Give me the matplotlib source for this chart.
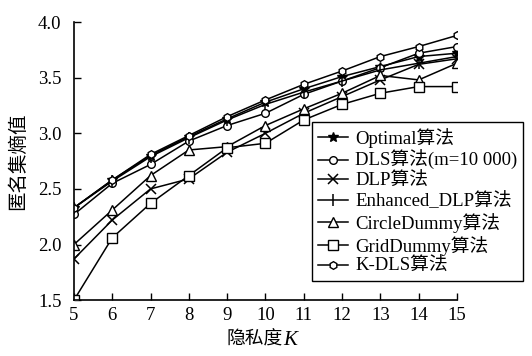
import matplotlib.pyplot as plt

plt.rcParams['font.family'] = ['Liberation Serif', 'Noto Sans CJK SC']

# privacy level K
K = [5, 6, 7, 8, 9, 10, 11, 12, 13, 14, 15]

# anonymity-set entropy
optimal = [2.33, 2.58, 2.80, 2.97, 3.13, 3.28, 3.40, 3.51, 3.60, 3.69, 3.72]
dls = [2.27, 2.55, 2.72, 2.93, 3.07, 3.18, 3.35, 3.47, 3.59, 3.72, 3.78]
dlp = [1.87, 2.22, 2.50, 2.59, 2.83, 3.00, 3.18, 3.33, 3.48, 3.62, 3.67]
enhanced_dlp = [2.33, 2.57, 2.79, 2.96, 3.12, 3.26, 3.37, 3.47, 3.57, 3.63, 3.69]
circle_dummy = [2.00, 2.31, 2.62, 2.85, 2.88, 3.07, 3.22, 3.36, 3.52, 3.48, 3.63]
grid_dummy = [1.50, 2.06, 2.37, 2.62, 2.87, 2.91, 3.12, 3.26, 3.36, 3.42, 3.42]
k_dls = [2.33, 2.58, 2.81, 2.98, 3.15, 3.30, 3.44, 3.56, 3.69, 3.78, 3.88]

labels = ['Optimal算法', 'DLS算法(m=10 000)', 'DLP算法', 'Enhanced_DLP算法',
          'CircleDummy算法', 'GridDummy算法', 'K-DLS算法']

fig = plt.figure(figsize=(5.32, 3.56), dpi=100)
ax = fig.add_axes([0.139, 0.157, 0.72, 0.781])

lw = 1.1
ax.plot(K, optimal, marker='*', ms=7, color='black', lw=lw, label=labels[0])
ax.plot(K, dls, marker='o', ms=5.5, mfc='white', mec='black', color='black', lw=lw, label=labels[1])
ax.plot(K, dlp, marker='x', ms=7, mew=1.1, color='black', lw=lw, label=labels[2])
ax.plot(K, enhanced_dlp, marker='|', ms=8, mew=1.1, color='black', lw=lw, label=labels[3])
ax.plot(K, circle_dummy, marker='^', ms=6.5, mfc='white', mec='black', color='black', lw=lw, label=labels[4])
ax.plot(K, grid_dummy, marker='s', ms=6.5, mfc='white', mec='black', color='black', lw=lw, label=labels[5])
ax.plot(K, k_dls, marker='h', ms=5.5, mfc='white', mec='black', color='black', lw=lw, label=labels[6])

ax.set_xlim(5, 15)
ax.set_ylim(1.5, 4.0)
ax.set_xticks(K)
ax.set_yticks([1.5, 2.0, 2.5, 3.0, 3.5, 4.0])
ax.set_yticklabels(['1.5', '2.0', '2.5', '3.0', '3.5', '4.0'])
ax.tick_params(direction='in', length=5, width=1, labelsize=13.5)
ax.tick_params(axis='x', pad=5)
ax.tick_params(axis='y', pad=9)

ax.spines['top'].set_visible(False)
ax.spines['right'].set_visible(False)
ax.spines['left'].set_linewidth(1.2)
ax.spines['bottom'].set_linewidth(1.2)

# x label: CJK part plus italic K
ax.text(0.546, -0.112, '隐私度', transform=ax.transAxes, ha='right', va='top',
        fontsize=13.5)
ax.text(0.546, -0.112, 'K', transform=ax.transAxes, ha='left', va='top',
        fontsize=15, style='italic')
ax.text(-0.145, 0.5, '匿名集熵值', transform=ax.transAxes, ha='center', va='center',
        rotation=90, fontsize=14)

leg = ax.legend(loc='upper left', bbox_to_anchor=(312 / 532, 1 - 122 / 356),
                bbox_transform=fig.transFigure, fontsize=13.5, frameon=True,
                fancybox=False, edgecolor='black', handlelength=1.6,
                labelspacing=0.14, borderpad=0.3, handletextpad=0.4,
                borderaxespad=0)
leg.get_frame().set_linewidth(1.0)
leg.get_frame().set_alpha(1)

fig.savefig('out.png', dpi=100)
